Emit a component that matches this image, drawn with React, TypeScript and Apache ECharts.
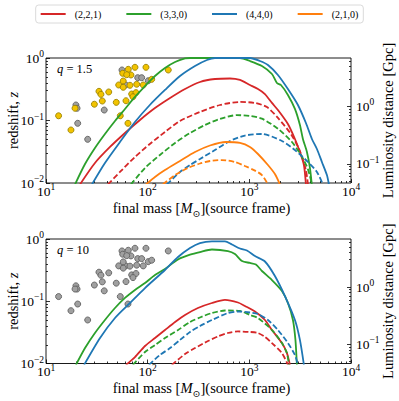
import React, { useEffect, useRef } from 'react';
import * as echarts from 'echarts';

const FONT = "'Liberation Serif', 'DejaVu Serif', serif";

const seriesNames = ['(2,2,1)', '(3,3,0)', '(4,4,0)', '(2,1,0)'];
const seriesColors = ['#d62728', '#2ca02c', '#1f77b4', '#ff7f0e'];

// ---- top panel, q = 1.5  ([final mass, redshift]) ----
const q15_221_solid = [[21.6,0.0095],[30.3,0.0209],[42.6,0.0377],[59.8,0.0631],[84.0,0.102],[118,0.158],[166,0.229],[233,0.319],[327,0.413],[459,0.461],[645,0.470],[809,0.445],[1014,0.370],[1216,0.319],[1424,0.265],[1669,0.191],[1911,0.147],[2396,0.0879],[2809,0.0506],[3145,0.0313],[3443,0.0194],[3603,0.0095]];
const q15_221_dashed = [[40.7,0.0095],[53.4,0.0150],[75.0,0.0261],[105,0.0421],[148,0.0655],[208,0.0983],[327,0.137],[514,0.177],[809,0.198],[1136,0.191],[1490,0.164],[1911,0.110],[2564,0.0608],[3145,0.0325],[3603,0.0161],[3770,0.0095]];
const q15_330_solid = [[19.3,0.0095],[24.2,0.0201],[30.3,0.0363],[38.0,0.0608],[47.7,0.0983],[59.8,0.153],[75.0,0.238],[94.1,0.356],[118,0.515],[148,0.692],[186,0.863],[233,0.982],[261,1],[459,1],[809,1],[1014,0.895],[1330,0.745],[1669,0.555],[1868,0.398],[2045,0.370],[2396,0.256],[2809,0.153],[3145,0.0847],[3365,0.0506],[3686,0.0313],[3944,0.0174],[4127,0.009]];
const q15_330_dashed = [[68.5,0.0095],[94.1,0.0174],[132,0.0281],[186,0.0437],[261,0.0631],[366,0.0847],[514,0.106],[755,0.122],[1014,0.118],[1330,0.107],[1911,0.0739],[2624,0.0453],[3218,0.0281],[3770,0.0167],[4127,0.0095]];
const q15_440_solid = [[28.3,0.0095],[38.0,0.0209],[53.4,0.0453],[75.0,0.0946],[105,0.177],[148,0.308],[208,0.515],[292,0.745],[383,0.929],[459,1],[1014,1],[1271,0.895],[1524,0.773],[1911,0.535],[2396,0.319],[3006,0.177],[3603,0.0912],[4127,0.0506],[4622,0.0350],[5174,0.0217],[5794,0.0134],[6063,0.0095]];
const q15_440_dashed = [[155,0.0095],[208,0.0150],[261,0.0194],[327,0.0242],[459,0.0337],[645,0.0470],[905,0.0575],[1330,0.0608],[2093,0.0470],[2809,0.0337],[3770,0.0217],[4622,0.0150],[5293,0.0095]];
const q15_210_solid = [[96.2,0.0095],[118,0.0125],[148,0.0161],[208,0.0225],[292,0.0313],[410,0.0398],[589,0.0453],[809,0.0437],[1014,0.0377],[1216,0.0291],[1524,0.0194],[1785,0.0139],[2000,0.0095]];
const q15_210_dashed = [[141,0.0095],[186,0.0134],[249,0.0174],[327,0.0205],[410,0.0225],[538,0.0233],[722,0.0217],[905,0.0187],[1136,0.0158],[1330,0.0134],[1524,0.0095]];

// ---- bottom panel, q = 10 ----
const q10_221_solid = [[61.2,0.0095],[75.0,0.0127],[94.1,0.0191],[118,0.0257],[148,0.0345],[186,0.0464],[233,0.0601],[312,0.0779],[429,0.0937],[576,0.105],[773,0.0955],[905,0.0839],[1136,0.0684],[1424,0.0500],[1669,0.0345],[2093,0.0213],[2343,0.0147],[2507,0.0095]];
const q10_221_dashed = [[173,0.0095],[233,0.0142],[292,0.0177],[392,0.0230],[491,0.0272],[616,0.0309],[773,0.0327],[1014,0.0321],[1216,0.0309],[1424,0.0267],[1669,0.0213],[2093,0.0147],[2396,0.0095]];
const q10_330_solid = [[19.7,0.0095],[24.2,0.0177],[30.3,0.0309],[38.0,0.0500],[47.7,0.0779],[59.8,0.113],[75.0,0.152],[94.1,0.196],[118,0.264],[148,0.330],[199,0.470],[261,0.560],[327,0.618],[429,0.678],[616,0.641],[722,0.574],[846,0.443],[1014,0.412],[1161,0.389],[1330,0.306],[1669,0.219],[2093,0.146],[2396,0.0937],[2684,0.0500],[2841,0.0239],[2938,0.0095]];
const q10_330_dashed = [[71.7,0.0095],[94.1,0.0153],[118,0.0198],[148,0.0257],[199,0.0345],[261,0.0464],[327,0.0548],[429,0.0648],[576,0.0710],[809,0.0697],[1014,0.0601],[1216,0.0538],[1669,0.0345],[2093,0.0213],[2343,0.0147],[2452,0.0095]];
const q10_440_solid = [[23.7,0.0095],[34.0,0.0257],[47.7,0.0538],[67.0,0.0937],[94.1,0.163],[148,0.318],[199,0.514],[261,0.717],[327,0.862],[429,0.919],[576,0.919],[675,0.816],[809,0.704],[947,0.654],[1136,0.533],[1424,0.435],[1785,0.254],[2239,0.121],[2809,0.0500],[3145,0.0239],[3443,0.0095]];
const q10_440_dashed = [[103,0.0095],[132,0.0137],[166,0.0177],[208,0.0239],[261,0.0321],[327,0.0400],[429,0.0500],[616,0.0648],[773,0.0684],[1014,0.0660],[1216,0.0624],[1524,0.0500],[1911,0.0345],[2396,0.0213],[2809,0.0137],[3006,0.0095]];

// ---- observed events (final mass, redshift) ----
const eventsGold = [[13.3,0.119],[17.6,0.0705],[19.3,0.157],[29.9,0.182],[33.2,0.293],[34.7,0.262],[35.8,0.205],[41.4,0.286],[49.1,0.195],[51.9,0.370],[53.8,0.119],[56.8,0.569],[64.5,0.659],[68.5,0.535],[75.0,0.710],[62.2,0.541],[57.5,0.429],[57.5,0.340],[67.0,0.366],[78.0,0.380],[69.6,0.265],[76.7,0.279],[61.2,0.207],[71.7,0.240],[64.0,0.0902],[96.2,0.710],[90.5,0.370],[109.5,0.456],[159.5,0.643]];
const eventsGray = [[19.7,0.177],[20.2,0.157],[20.5,0.0902],[25.7,0.050],[37.4,0.147],[55.9,0.643],[60.8,0.370],[79.8,0.484],[87.3,0.484],[101.4,0.433]];

// ---- axes ----
const massRange = [10, 10000];
const zRange = [0.01, 1];
const dLRange = [0.0465, 6.9];
const massMinorTicks = [20,30,40,50,60,70,80,90,200,300,400,500,600,700,800,900,2000,3000,4000,5000,6000,7000,8000,9000];
const zMinorTicks = [0.02,0.03,0.04,0.05,0.06,0.07,0.08,0.09,0.2,0.3,0.4,0.5,0.6,0.7,0.8,0.9];
const dLMajorTicks = [0.1, 1];
const dLMinorTicks = [0.05,0.06,0.07,0.08,0.09,0.2,0.3,0.4,0.5,0.6,0.7,0.8,0.9,2,3,4,5,6];

const panels = [
  { q: '1.5', top: 58, height: 125, lines: [[q15_221_solid, q15_221_dashed], [q15_330_solid, q15_330_dashed], [q15_440_solid, q15_440_dashed], [q15_210_solid, q15_210_dashed]] },
  { q: '10', top: 239, height: 124.5, lines: [[q10_221_solid, q10_221_dashed], [q10_330_solid, q10_330_dashed], [q10_440_solid, q10_440_dashed], null] },
];

const GRID_LEFT = 46;
const GRID_WIDTH = 305;

const pow10 = (v: number) => {
  const e = Math.round(Math.log10(v));
  return `{b|10}{s|${e < 0 ? '\u2212' + -e : e}}`;
};
const tickRich = {
  b: { fontSize: 13.5, fontFamily: FONT, color: '#000', lineHeight: 14, verticalAlign: 'bottom' },
  s: { fontSize: 9.5, fontFamily: FONT, color: '#000', lineHeight: 10, verticalAlign: 'bottom', padding: [0, 0, 6, 0] },
};

function buildOption() {
  const grid: any[] = [];
  const xAxis: any[] = [];
  const yAxis: any[] = [];
  const series: any[] = [];
  const graphic: any[] = [];
  const tickLine = { color: '#000', width: 0.8 };

  panels.forEach((p, pi) => {
    grid.push({ left: GRID_LEFT, top: p.top, width: GRID_WIDTH, height: p.height, show: true, borderColor: '#000', borderWidth: 0.9, backgroundColor: 'transparent' });
    xAxis.push({
      type: 'log', logBase: 10, gridIndex: pi, position: 'bottom', min: massRange[0], max: massRange[1],
      axisLine: { show: false }, splitLine: { show: false },
      axisTick: { inside: true, length: 4, lineStyle: tickLine },
      axisLabel: { formatter: pow10, rich: tickRich, margin: 1 },
    });
    xAxis.push({
      type: 'log', logBase: 10, gridIndex: pi, position: 'bottom', min: massRange[0], max: massRange[1],
      axisLine: { show: false }, splitLine: { show: false }, axisLabel: { show: false },
      axisTick: { inside: true, length: 2, lineStyle: tickLine, customValues: massMinorTicks },
    });
    yAxis.push({
      type: 'log', logBase: 10, gridIndex: pi, position: 'left', min: zRange[0], max: zRange[1],
      axisLine: { show: false }, splitLine: { show: false },
      axisTick: { inside: true, length: 4, lineStyle: tickLine },
      axisLabel: { formatter: pow10, rich: tickRich, margin: 2 },
    });
    yAxis.push({
      type: 'log', logBase: 10, gridIndex: pi, position: 'left', min: zRange[0], max: zRange[1],
      axisLine: { show: false }, splitLine: { show: false }, axisLabel: { show: false },
      axisTick: { inside: true, length: 2, lineStyle: tickLine, customValues: zMinorTicks },
    });
    yAxis.push({
      type: 'log', logBase: 10, gridIndex: pi, position: 'right', min: dLRange[0], max: dLRange[1],
      axisLine: { show: false }, splitLine: { show: false },
      axisTick: { inside: true, length: 4, lineStyle: tickLine, customValues: dLMajorTicks },
      axisLabel: { formatter: pow10, rich: tickRich, margin: 5, customValues: dLMajorTicks },
    });
    yAxis.push({
      type: 'log', logBase: 10, gridIndex: pi, position: 'right', min: dLRange[0], max: dLRange[1],
      axisLine: { show: false }, splitLine: { show: false }, axisLabel: { show: false },
      axisTick: { inside: true, length: 2, lineStyle: tickLine, customValues: dLMinorTicks },
    });

    const xi = pi * 2;
    const yi = pi * 4;
    if (pi === 0) {
      series.push({ type: 'scatter', name: 'events-gray', xAxisIndex: xi, yAxisIndex: yi, data: eventsGray, symbolSize: 6, itemStyle: { color: '#a0a0a0', borderColor: '#606060', borderWidth: 0.9, opacity: 1 }, z: 2 });
      series.push({ type: 'scatter', name: 'events-gold', xAxisIndex: xi, yAxisIndex: yi, data: eventsGold, symbolSize: 6, itemStyle: { color: '#f2c300', borderColor: '#9a8200', borderWidth: 0.9, opacity: 1 }, z: 3 });
    } else {
      series.push({ type: 'scatter', name: 'events-all', xAxisIndex: xi, yAxisIndex: yi, data: [...eventsGray, ...eventsGold], symbolSize: 6, itemStyle: { color: '#a0a0a0', borderColor: '#606060', borderWidth: 0.9, opacity: 1 }, z: 2 });
    }
    p.lines.forEach((pair, k) => {
      if (!pair) return;
      pair.forEach((data, j) => {
        series.push({
          type: 'line', name: seriesNames[k], xAxisIndex: xi, yAxisIndex: yi, data,
          showSymbol: false, symbol: 'none', smooth: 0.25, clip: true,
          color: seriesColors[k],
          lineStyle: { color: seriesColors[k], width: 1.8, type: j === 0 ? 'solid' : [5.5, 2.5] },
          itemStyle: { color: seriesColors[k] },
          z: 4,
        });
      });
    });

    const cy = p.top + p.height / 2;
    graphic.push({
      type: 'text', x: 12.5, y: cy, rotation: Math.PI / 2,
      style: { text: '{n|redshift, }{i|z}', align: 'center', verticalAlign: 'middle', fill: '#000',
        rich: { n: { fontSize: 14.5, fontFamily: FONT, fill: '#000' }, i: { fontSize: 14.5, fontFamily: FONT, fontStyle: 'italic', fill: '#000' } } },
    });
    graphic.push({
      type: 'text', x: 388, y: cy, rotation: Math.PI / 2,
      style: { text: 'Luminosity distance [Gpc]', align: 'center', verticalAlign: 'middle', fill: '#000', fontSize: 14.5, fontFamily: FONT },
    });
    graphic.push({
      type: 'text', x: 201.5, y: p.top + p.height + 25,
      style: { text: '{n|final mass [}{i|M}{sub|\u2299}{n|](source frame)}', align: 'center', verticalAlign: 'middle', fill: '#000',
        rich: {
          n: { fontSize: 14.5, fontFamily: FONT, fill: '#000', lineHeight: 16, verticalAlign: 'top' },
          i: { fontSize: 14.5, fontFamily: FONT, fontStyle: 'italic', fill: '#000', lineHeight: 16, verticalAlign: 'top' },
          sub: { fontSize: 9.5, fontFamily: "'DejaVu Serif', serif", fill: '#000', lineHeight: 10, verticalAlign: 'top', padding: [8, 0, 0, 0] },
        } },
    });
    graphic.push({
      type: 'text', x: 57, y: p.top + 10.5,
      style: { text: `{i|q}{n| = ${p.q}}`, align: 'left', verticalAlign: 'middle', fill: '#000',
        rich: { n: { fontSize: 12.5, fontFamily: FONT, fill: '#000' }, i: { fontSize: 12.5, fontFamily: FONT, fontStyle: 'italic', fill: '#000' } } },
    });
  });

  return {
    animation: false,
    backgroundColor: '#fff',
    textStyle: { fontFamily: FONT, color: '#000' },
    legend: {
      data: seriesNames, top: 5, left: 'center', icon: 'rect', itemWidth: 25, itemHeight: 2,
      itemGap: 25, padding: [4, 5, 4, 5], borderColor: '#d0d0d0', borderWidth: 0.8, borderRadius: 3,
      backgroundColor: '#fff',
      textStyle: { fontSize: 10, fontFamily: FONT, color: '#000', padding: [0, 0, 0, 4] },
      selectedMode: false,
    },
    grid, xAxis, yAxis, series, graphic,
  };
}

export default function App() {
  const ref = useRef<HTMLDivElement>(null);
  useEffect(() => {
    if (!ref.current) return;
    const chart = echarts.init(ref.current, undefined, { renderer: 'svg' });
    chart.setOption(buildOption() as any);
    return () => chart.dispose();
  }, []);
  return <div ref={ref} style={{ position: 'fixed', left: 0, top: 0, width: 399, height: 401 }} />;
}
